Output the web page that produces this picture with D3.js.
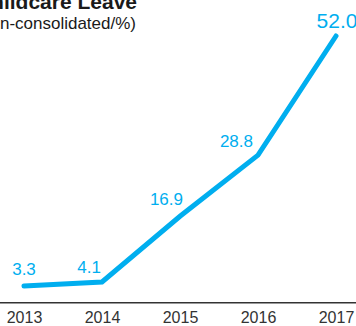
<!DOCTYPE html>
<html>
<head>
<meta charset="utf-8">
<script src="https://cdn.jsdelivr.net/npm/d3@7"></script>
<style>
  html, body { margin: 0; padding: 0; background: #fff; }
  svg { display: block; font-family: "Liberation Sans", Arial, sans-serif; }
</style>
</head>
<body>
<script>
// Share of male employees taking childcare leave (non-consolidated, %)
const years = ["2013", "2014", "2015", "2016", "2017"];
const rates = [3.3, 4.1, 16.9, 28.8, 52.0];
const valueLabels = ["3.3", "4.1", "16.9", "28.8", "52.0"];

const W = 356, H = 326;
const blue = "#00aeef";

const svg = d3.select("body").append("svg")
  .attr("width", W).attr("height", H);

const x = d3.scalePoint().domain(years).range([24, 336]);
const y = d3.scaleLinear().domain([0, 52]).range([303, 36]);

// Title block (runs off the left edge)
svg.append("text")
  .attr("x", 137).attr("y", 9)
  .attr("text-anchor", "end")
  .attr("font-size", 21).attr("font-weight", "bold").attr("fill", "#1a1a1a")
  .text("Ratio of Male Employees Taking Childcare Leave");
svg.append("text")
  .attr("x", 140).attr("y", 3)
  .attr("font-size", 11).attr("fill", "#1a1a1a")
  .text("*");
svg.append("text")
  .attr("x", 136).attr("y", 29)
  .attr("text-anchor", "end")
  .attr("font-size", 17).attr("fill", "#1a1a1a")
  .text("(Non-consolidated/%)");

// Baseline axis spanning the full width
const axis = svg.append("g")
  .attr("transform", `translate(0,${y(0)})`)
  .call(d3.axisBottom(x).tickSize(0).tickPadding(9));
axis.select(".domain").remove();
axis.selectAll("text")
  .attr("font-size", 16).attr("fill", "#333")
  .attr("font-family", "Liberation Sans, Arial, sans-serif")
  .attr("dy", "0.71em");
axis.insert("line", ":first-child")
  .attr("x1", 0).attr("x2", W)
  .attr("y1", -0.3).attr("y2", -0.3)
  .attr("stroke", "#333").attr("stroke-width", 1.6);

// Trend line
const line = d3.line()
  .x((d, i) => x(years[i]))
  .y(d => y(d));

svg.append("path")
  .datum(rates)
  .attr("d", line)
  .attr("fill", "none")
  .attr("stroke", blue)
  .attr("stroke-width", 5)
  .attr("stroke-linejoin", "miter")
  .attr("stroke-linecap", "round");

// Value labels
const labelPlace = [
  { anchor: "middle", dx: 0, dy: -11, size: 17 },
  { anchor: "end", dx: -1, dy: -9, size: 17 },
  { anchor: "end", dx: 3, dy: -11, size: 17 },
  { anchor: "end", dx: -5, dy: -8, size: 17 },
  { anchor: "middle", dx: 1, dy: -8, size: 21 }
];

svg.append("g").selectAll("text")
  .data(rates)
  .join("text")
  .attr("x", (d, i) => x(years[i]) + labelPlace[i].dx)
  .attr("y", (d, i) => y(d) + labelPlace[i].dy)
  .attr("text-anchor", (d, i) => labelPlace[i].anchor)
  .attr("font-size", (d, i) => labelPlace[i].size)
  .attr("fill", blue)
  .text((d, i) => valueLabels[i]);
</script>
</body>
</html>
